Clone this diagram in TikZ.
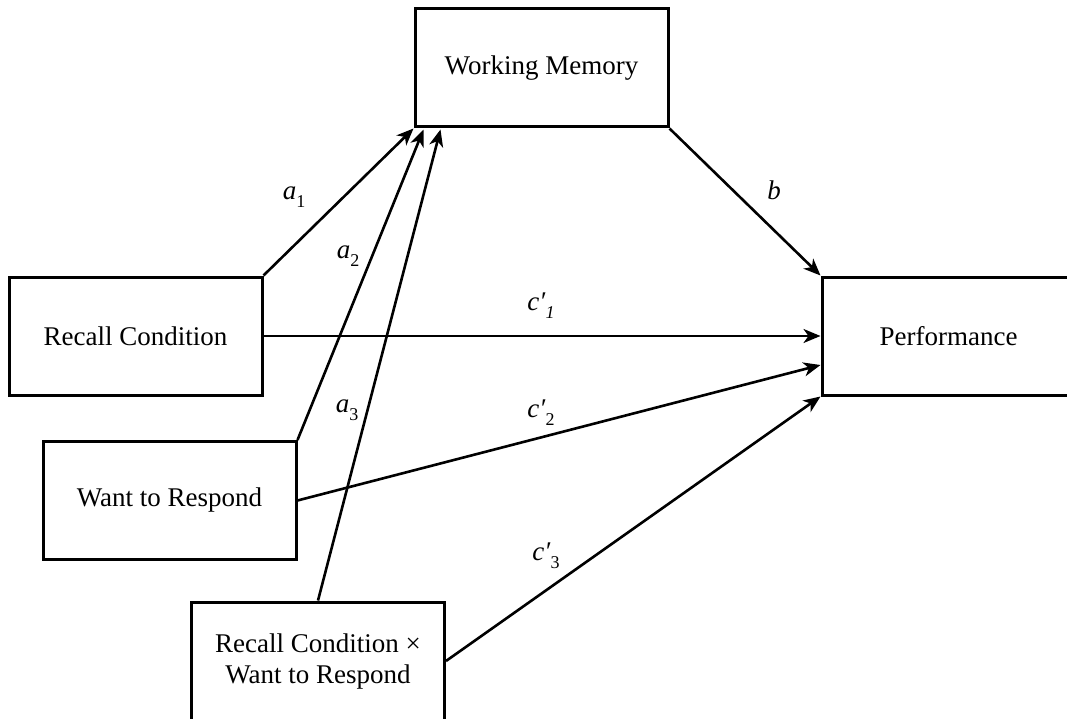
\documentclass[tikz,border=0pt]{standalone}
\usepackage{fontspec}
\setmainfont{Liberation Serif}
\usetikzlibrary{arrows.meta,calc}

\newcommand{\lowsub}[1]{\raisebox{-0.3em}{\fontsize{18}{18}\selectfont #1}}

\begin{document}
\begin{tikzpicture}[x=1pt,y=-1pt,
	varbox/.style={draw, line width=3pt, minimum width=253pt, minimum height=118pt, inner sep=0pt, align=center, font=\fontsize{27}{31}\selectfont},
	path/.style={line width=2.6pt, -{Stealth[length=17pt,width=14pt,inset=5pt]}},
	coef/.style={inner sep=0pt, font=\fontsize{27}{31}\selectfont}]

		\useasboundingbox[fill=white] (0,0) rectangle (1067,719);

		\node[varbox] (wm) at (541.5,68) {Working Memory};
		\node[varbox] (rc) at (135.5,336) {Recall Condition};
		\node[varbox] (wr) at (169.5,500.5) {Want to Respond};
		\node[varbox] (rcwr) at (318,661) {Recall Condition ×\\Want to Respond};
		\node[varbox] (perf) at (948.5,336) {Performance};

		% a paths
		\draw[path] (rc.north east) -- (wm.south west);
		\draw[path] (wr.north east) -- ($(wm.south west)+(10,1)$);
		\draw[path] (rcwr.north) -- ($(wm.south west)+(27,1)$);

		% b path
		\draw[path] (wm.south east) -- (perf.north west);

		% c' paths
		\draw[path] (rc.east) -- (perf.west);
		\draw[path] (wr.east) -- ($(perf.west)+(0,29)$);
		\draw[path] (rcwr.east) -- (perf.south west);

		\node[coef] (la1) at (294,197) {\textit{a}\lowsub{1}}; %a1
		\node[coef] (la2) at (348,256) {\textit{a}\lowsub{2}}; %a2
		\node[coef] (la3) at (347,410) {\textit{a}\lowsub{3}}; %a3
		\node[coef] (lb) at (774,190) {\textit{b}}; %b
		\node[coef] (lc1) at (541,306) {\textit{c′}\lowsub{\textit{1}}}; %c'1
		\node[coef] (lc2) at (541,413) {\textit{c′}\lowsub{2}}; %c'2
		\node[coef] (lc3) at (546,556) {\textit{c′}\lowsub{3}}; %c'3

	\end{tikzpicture}
\end{document}
